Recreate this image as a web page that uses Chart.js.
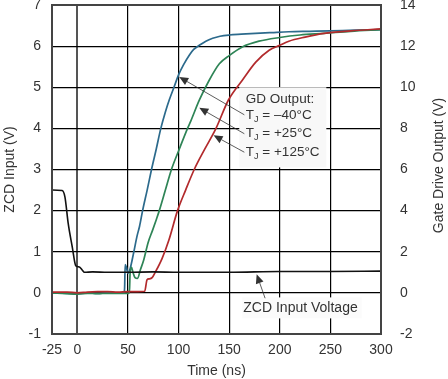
<!DOCTYPE html>
<html><head><meta charset="utf-8">
<script src="https://cdn.jsdelivr.net/npm/chart.js@4/dist/chart.umd.min.js"></script>
<style>html,body{margin:0;padding:0;background:#fff;}canvas{display:block;}</style>
</head><body>
<canvas id="c" width="448" height="379"></canvas>
<script>
// ---- tick labels ----
const xTicks = [-25, 0, 50, 100, 150, 200, 250, 300];
const leftTicks = [-1, 0, 1, 2, 3, 4, 5, 6, 7];
const rightTicks = [-2, 0, 2, 4, 6, 8, 10, 12, 14];

// ---- ZCD input voltage (left axis, V) ----
const zcdTime = [-25, -15, -12.2, -9, -5, -1.7, 0, 2.6, 5, 7, 15, 30, 50, 75, 100, 150, 200, 250, 300];
const zcdVolt = [2.5, 2.49, 2.33, 1.69, 1.12, 0.67, 0.64, 0.62, 0.55, 0.5, 0.51, 0.5, 0.5, 0.51, 0.5, 0.5, 0.52, 0.52, 0.53];

// ---- Gate drive output (right axis, V) ----
const gdM40Time = [-25, -10, 0, 10, 20, 30, 40, 46, 46.7, 47.3, 48.5, 50, 52.3, 55.6, 59, 61.5, 64.5, 69, 73.3, 78, 82.5, 87, 90.8, 95.5, 100, 105, 110.6, 115, 120.5, 127, 133.7, 141, 150, 162, 176, 192, 209, 230, 250, 275, 300];
const gdM40Volt = [0, -0.02, -0.04, 0, -0.02, 0, 0, 0, 0.2, 1.38, 1.24, 0.96, 1.2, 1.94, 2.76, 3.24, 4.0, 5.0, 6.0, 7.0, 8.0, 8.8, 9.38, 10.0, 10.6, 11.1, 11.56, 11.84, 12.04, 12.24, 12.38, 12.48, 12.54, 12.58, 12.62, 12.66, 12.7, 12.72, 12.74, 12.78, 12.8];

const gdP25Time = [-25, -10, 0, 10, 20, 30, 40, 51, 51.6, 52.2, 53.5, 55, 57, 59.5, 62.3, 65.6, 69.9, 74.3, 78, 81, 87, 93, 100, 108.9, 112.3, 120.4, 130.3, 140.3, 150, 163, 179.5, 200, 220, 243.7, 270, 300];
const gdP25Volt = [0, -0.04, -0.06, -0.02, -0.04, -0.02, -0.02, -0.02, 0.2, 1.0, 1.24, 1.0, 0.74, 0.7, 1.12, 1.6, 2.44, 3.04, 3.56, 4.0, 5.0, 6.0, 6.9, 8.0, 8.38, 9.36, 10.34, 11.14, 11.54, 11.96, 12.24, 12.42, 12.54, 12.62, 12.72, 12.8];

const gdP125Time = [-25, -10, 0, 10, 20, 30, 40, 50, 60, 66.6, 68.9, 71, 73.9, 77.2, 83.8, 90.4, 99, 107, 115.5, 126, 137, 149.3, 163, 176.3, 189.5, 200, 209, 225, 243.7, 270, 300];
const gdP125Volt = [0.04, 0.04, 0.0, 0.04, 0.06, 0.06, 0.04, 0.06, 0.06, 0.08, 0.64, 0.68, 0.74, 1.02, 1.68, 2.56, 4.0, 5.0, 6.0, 7.0, 8.0, 9.38, 10.34, 11.22, 11.8, 12.04, 12.24, 12.44, 12.62, 12.74, 12.84];

const toPts = (ts, vs) => ts.map((t, i) => ({ x: t, y: vs[i] }));

const FONT = "'Liberation Sans', Arial, Helvetica, sans-serif";
const TEXT = '#333';

// annotation anchors in data coordinates (x: ns, y: gate-drive V on right axis)
const gdBox = { x0: 160, x1: 246, y0: 10.0, y1: 6.1 };
const gdTextX = 166.5;
const gdTitleY = 9.5;
const gdLines = [
  { y: 8.68, rest: ' = \u201340\u00B0C', tail: [165, 8.66], tip: [100.7, 10.5] },
  { y: 7.80, rest: ' = +25\u00B0C', tail: [165, 7.74], tip: [120.5, 9.0] },
  { y: 6.88, rest: ' = +125\u00B0C', tail: [165, 6.84], tip: [134.6, 7.66] }
];
// ZCD label anchors (left axis)
const zcdBox = { x0: 163, x1: 281, y0: -0.11, y1: -0.62 };
const zcdText = { x: 220.5, y: -0.37, label: 'ZCD Input Voltage' };
const zcdArrow = { tail: [185.5, -0.13], tip: [177.2, 0.45] };

const AREA = { top: 5, bottom: 334, left: 52, right: 381 };

function arrow(ctx, x1, y1, x2, y2) {
  ctx.save();
  ctx.strokeStyle = '#333';
  ctx.fillStyle = '#333';
  ctx.lineWidth = 0.8;
  const ang = Math.atan2(y2 - y1, x2 - x1);
  const L = 9, W = 4;
  const bx = x2 - L * Math.cos(ang), by = y2 - L * Math.sin(ang);
  ctx.beginPath(); ctx.moveTo(x1, y1); ctx.lineTo(bx, by); ctx.stroke();
  ctx.beginPath();
  ctx.moveTo(x2, y2);
  ctx.lineTo(bx + W * Math.sin(ang), by - W * Math.cos(ang));
  ctx.lineTo(bx - W * Math.sin(ang), by + W * Math.cos(ang));
  ctx.closePath(); ctx.fill();
  ctx.restore();
}

const decor = {
  id: 'decor',
  beforeDraw(chart) {
    const ctx = chart.ctx;
    ctx.save(); ctx.fillStyle = '#fff'; ctx.fillRect(0, 0, chart.width, chart.height); ctx.restore();
  },
  beforeDatasetsDraw(chart) {
    const { ctx, scales: { x, y, y2 } } = chart;
    ctx.save();
    ctx.fillStyle = '#f8f8f8';
    let X0 = x.getPixelForValue(gdBox.x0), X1 = x.getPixelForValue(gdBox.x1);
    let Y0 = y2.getPixelForValue(gdBox.y0), Y1 = y2.getPixelForValue(gdBox.y1);
    ctx.fillRect(X0, Y0, X1 - X0, Y1 - Y0);
    ctx.fillStyle = '#fbfbfb';
    X0 = x.getPixelForValue(zcdBox.x0); X1 = x.getPixelForValue(zcdBox.x1);
    Y0 = y.getPixelForValue(zcdBox.y0); Y1 = y.getPixelForValue(zcdBox.y1);
    ctx.fillRect(X0, Y0, X1 - X0, Y1 - Y0);
    ctx.restore();
  },
  afterDatasetsDraw(chart) {
    const { ctx, chartArea: a, scales: { x, y, y2 } } = chart;
    ctx.save();
    // frame
    ctx.strokeStyle = '#444'; ctx.lineWidth = 2;
    ctx.strokeRect(a.left, a.top, a.right - a.left, a.bottom - a.top);
    // GD annotation
    ctx.fillStyle = TEXT;
    ctx.textBaseline = 'alphabetic';
    ctx.textAlign = 'left';
    const tx = x.getPixelForValue(gdTextX);
    ctx.font = '13.5px ' + FONT;
    ctx.fillText('GD Output:', tx, y2.getPixelForValue(gdTitleY) + 5);
    gdLines.forEach(l => {
      const by = y2.getPixelForValue(l.y) + 5;
      ctx.font = '13.5px ' + FONT;
      ctx.fillText('T', tx, by);
      const wT = ctx.measureText('T').width;
      ctx.font = '9px ' + FONT;
      ctx.fillText('J', tx + wT, by + 3);
      const wJ = ctx.measureText('J').width;
      ctx.font = '13.5px ' + FONT;
      ctx.fillText(l.rest, tx + wT + wJ, by);
      arrow(ctx, x.getPixelForValue(l.tail[0]), y2.getPixelForValue(l.tail[1]),
                 x.getPixelForValue(l.tip[0]), y2.getPixelForValue(l.tip[1]));
    });
    // ZCD annotation
    ctx.font = '14px ' + FONT;
    ctx.textAlign = 'center';
    ctx.textBaseline = 'middle';
    ctx.fillStyle = TEXT;
    ctx.fillText(zcdText.label, x.getPixelForValue(zcdText.x), y.getPixelForValue(zcdText.y));
    arrow(ctx, x.getPixelForValue(zcdArrow.tail[0]), y.getPixelForValue(zcdArrow.tail[1]),
               x.getPixelForValue(zcdArrow.tip[0]), y.getPixelForValue(zcdArrow.tip[1]));
    // axis titles
    ctx.font = '14px ' + FONT;
    ctx.fillText('Time (ns)', (a.left + a.right) / 2, 371);
    ctx.save();
    ctx.translate(10, (a.top + a.bottom) / 2);
    ctx.rotate(-Math.PI / 2);
    ctx.fillText('ZCD Input (V)', 0, 0);
    ctx.restore();
    ctx.save();
    ctx.translate(439, (a.top + a.bottom) / 2 - 4);
    ctx.rotate(-Math.PI / 2);
    ctx.fillText('Gate Drive Output (V)', 0, 0);
    ctx.restore();
    ctx.restore();
  }
};

Chart.defaults.font.family = FONT;
Chart.defaults.font.size = 14;
Chart.defaults.color = TEXT;

const vFit = w => s => { s.width = w; s.paddingTop = 0; s.paddingBottom = 0; };

const chart = new Chart(document.getElementById('c'), {
  type: 'line',
  data: {
    datasets: [
      { label: 'ZCD Input Voltage', data: toPts(zcdTime, zcdVolt), yAxisID: 'y', borderColor: '#111', borderWidth: 1.6 },
      { label: 'TJ = +125°C', data: toPts(gdP125Time, gdP125Volt), yAxisID: 'y2', borderColor: '#b22a2c', borderWidth: 1.7 },
      { label: 'TJ = +25°C', data: toPts(gdP25Time, gdP25Volt), yAxisID: 'y2', borderColor: '#2e8456', borderWidth: 1.7 },
      { label: 'TJ = -40°C', data: toPts(gdM40Time, gdM40Volt), yAxisID: 'y2', borderColor: '#2c6a8c', borderWidth: 1.7 }
    ]
  },
  options: {
    responsive: false,
    animation: false,
    devicePixelRatio: 1,
    layout: { padding: { top: 5, left: 0, right: 0, bottom: 0 } },
    elements: { point: { radius: 0 }, line: { cubicInterpolationMode: 'monotone' } },
    plugins: { legend: { display: false }, tooltip: { enabled: false } },
    scales: {
      x: {
        type: 'linear', min: -25, max: 300,
        afterBuildTicks: s => { s.ticks = xTicks.map(v => ({ value: v })); },
        afterFit: s => { s.height = 45; s.paddingLeft = 0; s.paddingRight = 0; },
        ticks: { padding: 8, color: TEXT, callback: v => String(v), maxRotation: 0 },
        grid: {
          drawTicks: false,
          color: c => (c.tick && c.tick.value === 0) ? '#555' : '#000',
          lineWidth: c => (c.tick && c.tick.value === 0) ? 2 : 1.2
        },
        border: { display: false }
      },
      y: {
        type: 'linear', position: 'left', min: -1, max: 7,
        afterBuildTicks: s => { s.ticks = leftTicks.map(v => ({ value: v })); },
        afterFit: vFit(52),
        ticks: { padding: 11, color: TEXT, callback: v => String(v) },
        grid: { drawTicks: false, color: '#000', lineWidth: 1.2 },
        border: { display: false }
      },
      y2: {
        type: 'linear', position: 'right', min: -2, max: 14,
        afterBuildTicks: s => { s.ticks = rightTicks.map(v => ({ value: v })); },
        afterFit: vFit(67),
        ticks: { padding: 19, color: TEXT, callback: v => String(v) },
        grid: { display: false, drawTicks: false },
        border: { display: false }
      }
    }
  },
  plugins: [decor]
});

// nudge layout so the plot area lands where the reference has it
for (let k = 0; k < 3; k++) {
  const a = chart.chartArea;
  const p = chart.options.layout.padding;
  const dt = a.top - AREA.top, db = a.bottom - AREA.bottom;
  if (Math.abs(dt) < 0.5 && Math.abs(db) < 0.5) break;
  p.top -= dt; p.bottom += db;
  chart.update();
}
</script>
</body></html>
